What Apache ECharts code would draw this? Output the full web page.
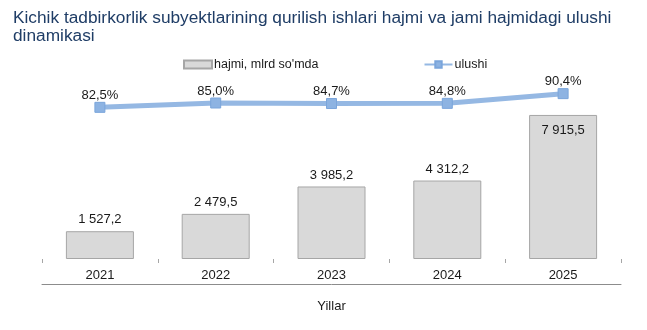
<!DOCTYPE html>
<html>
<head>
<meta charset="utf-8">
<script src="https://cdn.jsdelivr.net/npm/echarts@6/dist/echarts.min.js"></script>
<style>
  html, body { margin: 0; padding: 0; background: #fff; }
  #chart { width: 647px; height: 330px; }
</style>
</head>
<body>
<div id="chart"></div>
<script>
// Years on the category axis
var years = ['2021', '2022', '2023', '2024', '2025'];
// Construction volume of small businesses, bln. so'm
var volume = [1527.2, 2479.5, 3985.2, 4312.2, 7915.5];
// Share in the total volume, %
var share = [82.5, 85.0, 84.7, 84.8, 90.4];

var FONT = 'Arial, "Liberation Sans", sans-serif';

function fmtNum(v) {
  var parts = v.toFixed(1).split('.');
  var intPart = parts[0].replace(/\B(?=(\d{3})+(?!\d))/g, ' ');
  return intPart + ',' + parts[1];
}

var barData = volume.map(function (v, i) {
  var item = { value: v };
  if (i === volume.length - 1) {
    item.label = { position: 'insideTop', distance: 9 };
  }
  return item;
});

var chart = echarts.init(document.getElementById('chart'), null, { renderer: 'canvas' });
chart.setOption({
  animation: false,
  textStyle: { fontFamily: FONT },
  title: {
    text: "Kichik tadbirkorlik subyektlarining qurilish ishlari hajmi va jami hajmidagi ulushi\ndinamikasi",
    left: 8,
    top: 4,
    textStyle: { fontFamily: FONT, fontSize: 17.3, fontWeight: 'normal', color: '#1f3d66', lineHeight: 18 }
  },
  legend: {
    left: 178,
    top: 53,
    itemWidth: 28,
    itemHeight: 8,
    itemGap: 105,
    textStyle: { fontFamily: FONT, fontSize: 12.5, color: '#1a1a1a', padding: [0, 0, 0, -3] },
    data: [
      { name: "hajmi, mlrd so'mda", icon: 'rect' },
      { name: 'ulushi' }
    ]
  },
  grid: { left: 42, right: 26, top: 77, bottom: 71 },
  xAxis: [
    {
      type: 'category',
      data: years,
      position: 'bottom',
      axisLine: { show: false, onZero: false },
      axisTick: { show: true, length: 4, lineStyle: { color: '#a6a6a6' } },
      axisLabel: { fontFamily: FONT, fontSize: 13, color: '#1a1a1a', margin: 10 },
      splitLine: { show: false }
    },
    {
      type: 'category',
      data: years,
      position: 'bottom',
      offset: 25,
      axisLine: { show: true, onZero: false, lineStyle: { color: '#8c8c8c', width: 1 } },
      axisTick: { show: false },
      axisLabel: { show: false },
      splitLine: { show: false },
      name: 'Yillar',
      nameLocation: 'middle',
      nameGap: 16,
      nameTextStyle: { fontFamily: FONT, fontSize: 13, color: '#1a1a1a' }
    }
  ],
  yAxis: [
    { type: 'value', min: 0, max: 10000, show: false, splitLine: { show: false } },
    { type: 'value', min: -5, max: 100, show: false, splitLine: { show: false } }
  ],
  series: [
    {
      name: "hajmi, mlrd so'mda",
      type: 'bar',
      xAxisIndex: 0,
      yAxisIndex: 0,
      barWidth: 68,
      data: barData,
      itemStyle: { color: '#d9d9d9', borderColor: '#a6a6a6', borderWidth: 1 },
      label: {
        show: true,
        position: 'top',
        distance: 5,
        fontFamily: FONT,
        fontSize: 13,
        color: '#1a1a1a',
        formatter: function (p) { return fmtNum(p.value); }
      }
    },
    {
      name: 'ulushi',
      type: 'line',
      xAxisIndex: 0,
      yAxisIndex: 1,
      data: share,
      symbol: 'rect',
      symbolSize: 10,
      lineStyle: { color: '#95b8e3', width: 5 },
      itemStyle: { color: '#8db3e2', borderColor: '#7aa5db', borderWidth: 1 },
      label: {
        show: true,
        position: 'top',
        distance: 0,
        fontFamily: FONT,
        fontSize: 13,
        color: '#1a1a1a',
        formatter: function (p) { return fmtNum(p.value) + '%'; }
      },
      z: 3
    }
  ]
});
</script>
</body>
</html>
